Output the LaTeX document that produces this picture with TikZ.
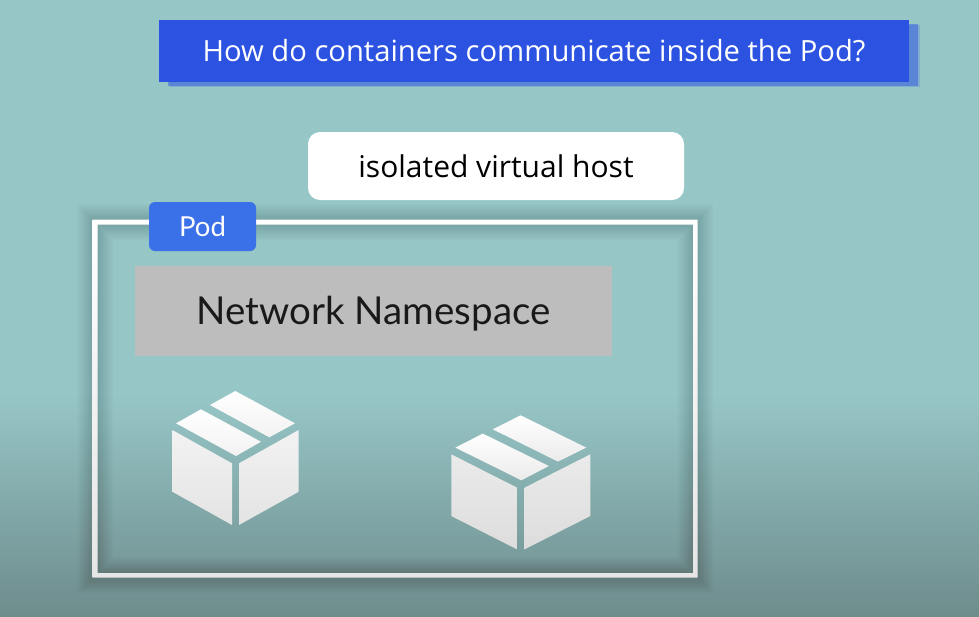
\documentclass[tikz,border=0pt]{standalone}
\usepackage{fontspec}
\setmainfont{Open Sans}
\newfontfamily\labelfont{Lato}
\usepackage{pgf,tikz}
\usetikzlibrary{shadows}
\definecolor{tealtop}{HTML}{97C6C7}
\definecolor{tealbottom}{HTML}{6E8C8C}
\definecolor{titleblue}{HTML}{2B52E0}
\definecolor{podblue}{HTML}{3A70E8}
\definecolor{nsgray}{HTML}{BDBDBD}
\tikzstyle{titlebar} = [fill=titleblue, text=white, minimum width=750pt, minimum height=62pt, inner sep=0pt, outer sep=0pt, font=\fontsize{29.2}{34}\selectfont, drop shadow={shadow xshift=11pt, shadow yshift=-5pt, fill=titleblue, opacity=.2}, drop shadow={shadow xshift=9pt, shadow yshift=-4pt, fill=titleblue, opacity=.45}]
\tikzstyle{hostbox} = [fill=white, text=black, rounded corners=12pt, minimum width=376pt, minimum height=68pt, inner sep=0pt, outer sep=0pt, font=\fontsize{30}{34}\selectfont]
\tikzstyle{podframe} = [minimum width=600pt, minimum height=353pt, inner sep=0pt, outer sep=0pt]
\tikzstyle{podtag} = [fill=podblue, text=white, rounded corners=6pt, minimum width=107pt, minimum height=49pt, inner sep=0pt, outer sep=0pt, font=\labelfont\fontsize{27.5}{30}\selectfont]
\tikzstyle{nsbox} = [fill=nsgray, text=black!90, minimum width=477pt, minimum height=90pt, inner sep=0pt, outer sep=0pt, text height=26pt, text depth=0pt, font=\labelfont\fontsize{38.5}{44}\selectfont]
\tikzset{
	boxpack/.pic={
		\shade[top color=#1!100!white, bottom color=#1!94!black] (-63.2,-95) -- (-3.5,-61.7) -- (-3.5,0) -- (-63.2,-33.3) -- cycle;
		\shade[top color=#1!100!white, bottom color=#1!94!black] (3.5,-61.7) -- (63.2,-95) -- (63.2,-33.3) -- (3.5,0) -- cycle;
		\shade[top color=white, bottom color=#1] (-59.5,-101.7) -- (-34.5,-115.7) -- (25.5,-83.3) -- (0.5,-69) -- cycle;
		\shade[top color=white, bottom color=#1] (-25.5,-120) -- (-0.2,-134) -- (59.5,-101.7) -- (33.8,-87.7) -- cycle;
	}
}
\begin{document}
\begin{tikzpicture}[x=1pt,y=-1pt]
	\useasboundingbox (0,0) rectangle (979,616);
	\fill[tealtop] (0,0) rectangle (979,616);
	\shade[top color=tealtop, bottom color=tealbottom] (0,395) rectangle (979,616);
	\node[titlebar](title) at (534,51) {How do containers communicate inside the Pod?};
	\node[hostbox](host) at (496,166) {isolated virtual host};
	\node[podframe](pod) at (395,398.5) {};
	\foreach \w in {3,6,...,36}
		\draw[black, opacity=.014, line width=\w pt] (pod.south west) rectangle (pod.north east);
	\shade[top color=white, bottom color=white!80!gray, even odd rule] ([shift={(-2.5,2.5)}]pod.south west) rectangle ([shift={(2.5,-2.5)}]pod.north east) ([shift={(2.5,-2)}]pod.south west) rectangle ([shift={(-2,2.5)}]pod.north east);
	\node[podtag](tag) at (202.5,226.5) {Pod};
	\node[nsbox](ns) at (373.5,311) {Network Namespace};
	\pic (left) at (235.5,525) {boxpack=white!90!gray};
	\pic[xscale=1.1] (right) at (520.8,549.3) {boxpack=white!84!gray};
\end{tikzpicture}
\end{document}
